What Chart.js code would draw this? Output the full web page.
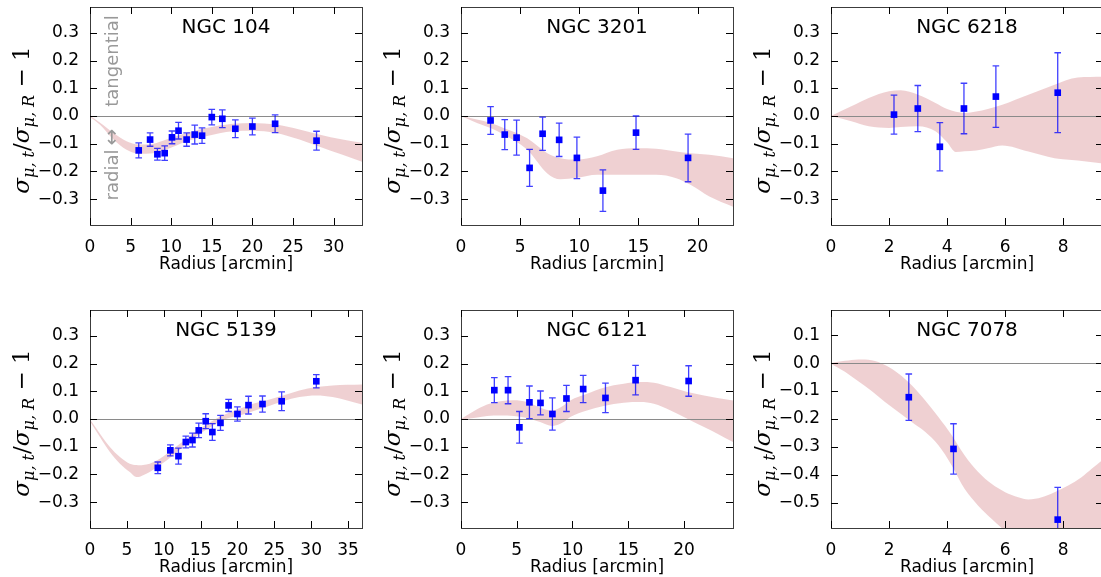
<!DOCTYPE html>
<html>
<head>
<meta charset="utf-8">
<script src="https://cdn.jsdelivr.net/npm/chart.js@4.4.0/dist/chart.umd.min.js"></script>
<style>
  body { margin: 0; background: #fff; width: 1101px; height: 577px; overflow: hidden; position: relative; }
  canvas { position: absolute; }
</style>
</head>
<body>
<canvas id="ngc104"></canvas>
<canvas id="ngc3201"></canvas>
<canvas id="ngc6218"></canvas>
<canvas id="ngc5139"></canvas>
<canvas id="ngc6121"></canvas>
<canvas id="ngc7078"></canvas>
<script>
// ---- dados ----
const ngc104X   = [6.0, 7.4, 8.3, 9.2, 10.1, 10.9, 11.9, 12.9, 13.8, 15.0, 16.3, 17.9, 20.0, 22.8, 27.9];
const ngc104Y   = [-0.124, -0.085, -0.138, -0.134, -0.077, -0.053, -0.085, -0.067, -0.071, -0.004, -0.010, -0.046, -0.038, -0.028, -0.089];
const ngc104Err = [0.027, 0.024, 0.021, 0.026, 0.023, 0.030, 0.024, 0.034, 0.028, 0.028, 0.032, 0.032, 0.030, 0.032, 0.034];
const ngc104BandX  = [0, 1.2, 2.9, 4.5, 6.0, 7.8, 9.4, 11.9, 14.3, 17.6, 20.0, 22.9, 25.8, 28.2, 31.1, 33.6];
const ngc104BandHi = [0, -0.023, -0.061, -0.091, -0.103, -0.100, -0.085, -0.061, -0.043, -0.028, -0.025, -0.031, -0.049, -0.067, -0.085, -0.097];
const ngc104BandLo = [-0.004, -0.031, -0.085, -0.122, -0.136, -0.134, -0.121, -0.091, -0.073, -0.055, -0.053, -0.061, -0.085, -0.110, -0.140, -0.166];

const ngc3201X   = [2.5, 3.7, 4.7, 5.8, 6.9, 8.3, 9.8, 12.0, 14.8, 19.2];
const ngc3201Y   = [-0.016, -0.067, -0.078, -0.187, -0.064, -0.086, -0.151, -0.269, -0.060, -0.151];
const ngc3201Err = [0.050, 0.054, 0.063, 0.067, 0.060, 0.060, 0.075, 0.075, 0.060, 0.086];
const ngc3201BandX  = [0, 1.35, 2.5, 3.6, 5.6, 7.3, 8.4, 9.8, 11.5, 13.2, 14.9, 16.5, 18.2, 19.4, 21.0, 23.0];
const ngc3201BandHi = [0, -0.013, -0.025, -0.043, -0.080, -0.134, -0.152, -0.157, -0.145, -0.122, -0.116, -0.118, -0.128, -0.134, -0.140, -0.152];
const ngc3201BandLo = [0, -0.025, -0.043, -0.067, -0.122, -0.207, -0.228, -0.223, -0.212, -0.212, -0.212, -0.212, -0.224, -0.248, -0.290, -0.327];

const ngc6218X   = [2.17, 2.99, 3.75, 4.58, 5.68, 7.81];
const ngc6218Y   = [0.005, 0.027, -0.111, 0.027, 0.070, 0.084];
const ngc6218Err = [0.070, 0.083, 0.087, 0.091, 0.111, 0.144];
const ngc6218BandX  = [0, 0.7, 1.3, 2.0, 2.4, 3.0, 3.6, 4.0, 4.3, 4.6, 5.0, 5.4, 5.9, 6.8, 7.7, 8.5, 9.4];
const ngc6218BandHi = [0, 0.035, 0.065, 0.089, 0.093, 0.077, 0.047, 0.025, 0.015, 0.011, 0.016, 0.025, 0.041, 0.077, 0.113, 0.139, 0.142];
const ngc6218BandLo = [0, -0.019, -0.037, -0.043, -0.040, -0.037, -0.055, -0.095, -0.130, -0.127, -0.124, -0.116, -0.106, -0.128, -0.152, -0.160, -0.172];

const ngc5139X   = [9.2, 10.9, 12.0, 13.0, 13.9, 14.75, 15.7, 16.6, 17.7, 18.8, 20.0, 21.5, 23.4, 26.0, 30.7];
const ngc5139Y   = [-0.176, -0.113, -0.134, -0.083, -0.076, -0.041, -0.008, -0.047, -0.014, 0.049, 0.018, 0.050, 0.054, 0.064, 0.136];
const ngc5139Err = [0.021, 0.020, 0.029, 0.021, 0.025, 0.026, 0.027, 0.030, 0.027, 0.022, 0.026, 0.032, 0.029, 0.034, 0.024];
const ngc5139BandX  = [0, 1.35, 2.7, 4.06, 5.4, 6.3, 6.77, 7.2, 8.1, 9.47, 11.3, 13.1, 14.9, 16.7, 18.5, 20.3, 22.1, 23.9, 26.2, 28.4, 30.7, 32.9, 36.9];
const ngc5139BandHi = [-0.002, -0.053, -0.101, -0.137, -0.161, -0.166, -0.167, -0.166, -0.161, -0.143, -0.107, -0.071, -0.035, -0.005, 0.019, 0.037, 0.055, 0.067, 0.085, 0.103, 0.115, 0.121, 0.124];
const ngc5139BandLo = [-0.008, -0.065, -0.119, -0.161, -0.191, -0.209, -0.208, -0.203, -0.191, -0.167, -0.131, -0.089, -0.053, -0.023, 0.001, 0.013, 0.028, 0.043, 0.064, 0.079, 0.085, 0.079, 0.052];

const ngc6121X   = [2.99, 4.22, 5.24, 6.14, 7.13, 8.2, 9.46, 10.96, 12.96, 15.66, 20.42];
const ngc6121Y   = [0.104, 0.104, -0.030, 0.060, 0.058, 0.018, 0.074, 0.108, 0.076, 0.140, 0.137];
const ngc6121Err = [0.045, 0.049, 0.057, 0.059, 0.043, 0.058, 0.047, 0.049, 0.053, 0.053, 0.055];
const ngc6121BandX  = [0, 1.14, 2.34, 3.53, 4.73, 5.93, 7.1, 8.2, 9.2, 9.8, 11.3, 12.8, 14.6, 16.1, 17.3, 18.8, 20.3, 21.8, 23.0, 24.4];
const ngc6121BandHi = [0, 0.028, 0.052, 0.064, 0.068, 0.061, 0.041, 0.031, 0.049, 0.067, 0.091, 0.113, 0.127, 0.133, 0.131, 0.115, 0.097, 0.085, 0.076, 0.067];
const ngc6121BandLo = [-0.002, 0.004, 0.011, 0.013, 0.011, 0.004, -0.011, -0.025, -0.011, 0.007, 0.031, 0.047, 0.059, 0.061, 0.055, 0.031, 0.001, -0.029, -0.053, -0.083];

const ngc7078X   = [2.68, 4.22, 7.81];
const ngc7078Y   = [-0.122, -0.307, -0.560];
const ngc7078Err = [0.083, 0.090, 0.115];
const ngc7078BandX  = [0, 0.48, 0.94, 1.4, 1.86, 2.32, 2.78, 3.24, 3.7, 4.16, 4.6, 5.07, 5.53, 6.0, 6.45, 6.8, 7.26, 7.7, 8.17, 8.63, 8.98, 9.4];
const ngc7078BandHi = [0, 0.008, 0.013, 0.010, -0.007, -0.037, -0.079, -0.133, -0.193, -0.258, -0.330, -0.390, -0.432, -0.462, -0.480, -0.488, -0.480, -0.462, -0.438, -0.408, -0.378, -0.342];
const ngc7078BandLo = [-0.002, -0.031, -0.065, -0.100, -0.139, -0.175, -0.211, -0.246, -0.294, -0.366, -0.450, -0.510, -0.557, -0.600, -0.630, -0.650, -0.660, -0.660, -0.650, -0.640, -0.630, -0.620];

// ticks
const yTicksStd  = [-0.3, -0.2, -0.1, 0.0, 0.1, 0.2, 0.3];
const yTicks7078 = [-0.5, -0.4, -0.3, -0.2, -0.1, 0.0, 0.1];
const xTicks104  = [0, 5, 10, 15, 20, 25, 30];
const xTicks3201 = [0, 5, 10, 15, 20];
const xTicks6218 = [0, 2, 4, 6, 8];
const xTicks5139 = [0, 5, 10, 15, 20, 25, 30, 35];
const xTicks6121 = [0, 5, 10, 15, 20];
const xTicks7078 = [0, 2, 4, 6, 8];

// posição das áreas de plotagem na página
const colLeft = [90, 460.7, 831];
const rowTop = [7, 310];
const plotW = 272, plotH = 218;
const AXIS_W = 90, PAD_TOP = 7, PAD_RIGHT = 8, AXIS_H = 60;

const FONT = '"DejaVu Sans"';
const MATH = '"DejaVu Serif"';
Chart.defaults.font.family = FONT;
Chart.defaults.color = '#000';

const toPts = (xs, ys) => xs.map((v, i) => ({ x: v, y: ys[i] }));
const fmtY = v => (v < -1e-9 ? '\u2212' : '') + Math.abs(v).toFixed(1);

// título do eixo y com subscritos (texto girado)
function drawYTitle(ctx, cx, cy) {
  const parts = [
    { t: '\u03c3', f: 'italic 23px ' + MATH, dy: 0 },
    { t: '\u03bc, t', f: 'italic 16px ' + MATH, dy: 5 },
    { t: '/', f: '23px ' + MATH, dy: 0 },
    { t: '\u03c3', f: 'italic 23px ' + MATH, dy: 0 },
    { t: '\u03bc, R', f: 'italic 16px ' + MATH, dy: 5 },
    { t: ' \u2212 1', f: '23px ' + MATH, dy: 0 }
  ];
  ctx.save();
  ctx.translate(cx, cy);
  ctx.rotate(-Math.PI / 2);
  let total = 0;
  parts.forEach(p => { ctx.font = p.f; p.w = ctx.measureText(p.t).width; total += p.w; });
  let x = -total / 2;
  ctx.fillStyle = '#000';
  ctx.textAlign = 'left';
  ctx.textBaseline = 'alphabetic';
  parts.forEach(p => { ctx.font = p.f; ctx.fillText(p.t, x, p.dy + 6); x += p.w; });
  ctx.restore();
}

function criarPainel(p) {
  const canvas = document.getElementById(p.id);
  canvas.width = AXIS_W + plotW + PAD_RIGHT;
  canvas.height = PAD_TOP + plotH + AXIS_H;
  canvas.style.left = (p.left - AXIS_W) + 'px';
  canvas.style.top = (p.top - PAD_TOP) + 'px';

  const painelPlugin = {
    id: 'painel',
    beforeDatasetDraw(chart, args) {
      if (args.index !== 2) return;
      const { ctx, chartArea: a, scales: { x, y } } = chart;
      ctx.save();
      ctx.beginPath();
      ctx.rect(a.left, a.top, a.right - a.left, a.bottom - a.top);
      ctx.clip();
      // linha do zero
      const y0 = Math.round(y.getPixelForValue(0)) + 0.5;
      ctx.strokeStyle = '#8a8a8a';
      ctx.lineWidth = 1;
      ctx.beginPath();
      ctx.moveTo(a.left, y0);
      ctx.lineTo(a.right, y0);
      ctx.stroke();
      // barras de erro
      ctx.strokeStyle = 'rgba(0,0,255,0.75)';
      ctx.lineWidth = 1.3;
      p.x.forEach((xv, i) => {
        const px = x.getPixelForValue(xv);
        const top = y.getPixelForValue(p.y[i] + p.err[i]);
        const bot = y.getPixelForValue(p.y[i] - p.err[i]);
        ctx.beginPath();
        ctx.moveTo(px, top); ctx.lineTo(px, bot);
        ctx.moveTo(px - 3.3, top); ctx.lineTo(px + 3.3, top);
        ctx.moveTo(px - 3.3, bot); ctx.lineTo(px + 3.3, bot);
        ctx.stroke();
      });
      ctx.restore();
    },
    afterDraw(chart) {
      const { ctx, chartArea: a, scales: { x, y } } = chart;
      ctx.save();
      // moldura
      ctx.strokeStyle = '#3c3c3c';
      ctx.lineWidth = 1;
      ctx.strokeRect(Math.round(a.left) + 0.5, Math.round(a.top) + 0.5,
        Math.round(a.right - a.left), Math.round(a.bottom - a.top));
      // ticks para dentro nos quatro lados
      ctx.strokeStyle = '#000';
      ctx.beginPath();
      x.ticks.forEach(t => {
        const px = Math.round(x.getPixelForValue(t.value)) + 0.5;
        ctx.moveTo(px, a.bottom); ctx.lineTo(px, a.bottom - 7);
        ctx.moveTo(px, a.top); ctx.lineTo(px, a.top + 7);
      });
      y.ticks.forEach(t => {
        const py = Math.round(y.getPixelForValue(t.value)) + 0.5;
        ctx.moveTo(a.left, py); ctx.lineTo(a.left + 7, py);
        ctx.moveTo(a.right, py); ctx.lineTo(a.right - 7, py);
      });
      ctx.stroke();
      // título do painel
      ctx.fillStyle = '#000';
      ctx.font = '20px ' + FONT;
      ctx.textAlign = 'center';
      ctx.textBaseline = 'middle';
      ctx.fillText(p.name, (a.left + a.right) / 2, a.top + 21);
      // anotação radial / tangencial
      if (p.anotacao) {
        ctx.fillStyle = '#999';
        const rot = (txt, cx, cy, size) => {
          ctx.save();
          ctx.font = size + 'px ' + FONT;
          ctx.translate(cx, cy);
          ctx.rotate(-Math.PI / 2);
          ctx.fillText(txt, 0, 0);
          ctx.restore();
        };
        rot('tangential', a.left + 23, a.top + 54, 18);
        rot('\u2194', a.left + 23, a.top + 130, 20);
        rot('radial', a.left + 23, a.top + 168, 18);
      }
      drawYTitle(ctx, 23, (a.top + a.bottom) / 2 + 4);
      ctx.restore();
    }
  };

  return new Chart(canvas, {
    type: 'scatter',
    data: {
      datasets: [
        {
          type: 'line',
          data: toPts(p.bandX, p.bandHi),
          borderColor: 'rgba(0,0,0,0)',
          pointRadius: 0,
          cubicInterpolationMode: 'monotone',
          fill: false,
          order: 1
        },
        {
          type: 'line',
          data: toPts(p.bandX, p.bandLo),
          borderColor: 'rgba(0,0,0,0)',
          backgroundColor: 'rgba(205,110,115,0.32)',
          pointRadius: 0,
          cubicInterpolationMode: 'monotone',
          fill: '-1',
          order: 1
        },
        {
          data: toPts(p.x, p.y),
          pointStyle: 'rect',
          pointRadius: 4.7,
          pointBackgroundColor: '#0000ff',
          pointBorderWidth: 0,
          order: 0
        }
      ]
    },
    options: {
      responsive: false,
      devicePixelRatio: 1,
      animation: false,
      events: [],
      layout: { padding: { top: PAD_TOP, right: PAD_RIGHT, left: 0, bottom: 0 } },
      plugins: { legend: { display: false }, tooltip: { enabled: false } },
      scales: {
        x: {
          type: 'linear',
          min: 0,
          max: p.xMax,
          afterBuildTicks: s => { s.ticks = p.xTicks.map(v => ({ value: v })); },
          afterFit: s => { s.height = AXIS_H; s.paddingLeft = 0; s.paddingRight = 0; },
          grid: { display: false, drawTicks: false, tickLength: 0 },
          border: { display: false },
          ticks: { font: { size: 17 }, color: '#000', padding: 12, maxRotation: 0, autoSkip: false },
          title: { display: true, text: 'Radius [arcmin]', font: { size: 17 }, color: '#000', padding: { top: 0, bottom: 10 } }
        },
        y: {
          type: 'linear',
          min: p.yMin,
          max: p.yMax,
          afterBuildTicks: s => { s.ticks = p.yTicks.map(v => ({ value: v })); },
          afterFit: s => { s.width = AXIS_W; s.paddingTop = 0; s.paddingBottom = 0; },
          grid: { display: false, drawTicks: false, tickLength: 0 },
          border: { display: false },
          ticks: { font: { size: 17 }, color: '#000', padding: 11, callback: fmtY, autoSkip: false }
        }
      }
    },
    plugins: [painelPlugin]
  });
}

// Montar os seis painéis
const paineis = [
  { id: 'ngc104', name: 'NGC 104', left: colLeft[0], top: rowTop[0], xMax: 33.5, yMin: -0.393, yMax: 0.393,
    x: ngc104X, y: ngc104Y, err: ngc104Err, bandX: ngc104BandX, bandHi: ngc104BandHi, bandLo: ngc104BandLo,
    xTicks: xTicks104, yTicks: yTicksStd, anotacao: true },
  { id: 'ngc3201', name: 'NGC 3201', left: colLeft[1], top: rowTop[0], xMax: 23.0, yMin: -0.393, yMax: 0.393,
    x: ngc3201X, y: ngc3201Y, err: ngc3201Err, bandX: ngc3201BandX, bandHi: ngc3201BandHi, bandLo: ngc3201BandLo,
    xTicks: xTicks3201, yTicks: yTicksStd },
  { id: 'ngc6218', name: 'NGC 6218', left: colLeft[2], top: rowTop[0], xMax: 9.37, yMin: -0.393, yMax: 0.393,
    x: ngc6218X, y: ngc6218Y, err: ngc6218Err, bandX: ngc6218BandX, bandHi: ngc6218BandHi, bandLo: ngc6218BandLo,
    xTicks: xTicks6218, yTicks: yTicksStd },
  { id: 'ngc5139', name: 'NGC 5139', left: colLeft[0], top: rowTop[1], xMax: 36.9, yMin: -0.393, yMax: 0.393,
    x: ngc5139X, y: ngc5139Y, err: ngc5139Err, bandX: ngc5139BandX, bandHi: ngc5139BandHi, bandLo: ngc5139BandLo,
    xTicks: xTicks5139, yTicks: yTicksStd },
  { id: 'ngc6121', name: 'NGC 6121', left: colLeft[1], top: rowTop[1], xMax: 24.4, yMin: -0.393, yMax: 0.393,
    x: ngc6121X, y: ngc6121Y, err: ngc6121Err, bandX: ngc6121BandX, bandHi: ngc6121BandHi, bandLo: ngc6121BandLo,
    xTicks: xTicks6121, yTicks: yTicksStd },
  { id: 'ngc7078', name: 'NGC 7078', left: colLeft[2], top: rowTop[1], xMax: 9.37, yMin: -0.59, yMax: 0.19,
    x: ngc7078X, y: ngc7078Y, err: ngc7078Err, bandX: ngc7078BandX, bandHi: ngc7078BandHi, bandLo: ngc7078BandLo,
    xTicks: xTicks7078, yTicks: yTicks7078 }
];

paineis.forEach(criarPainel);
</script>
</body>
</html>
